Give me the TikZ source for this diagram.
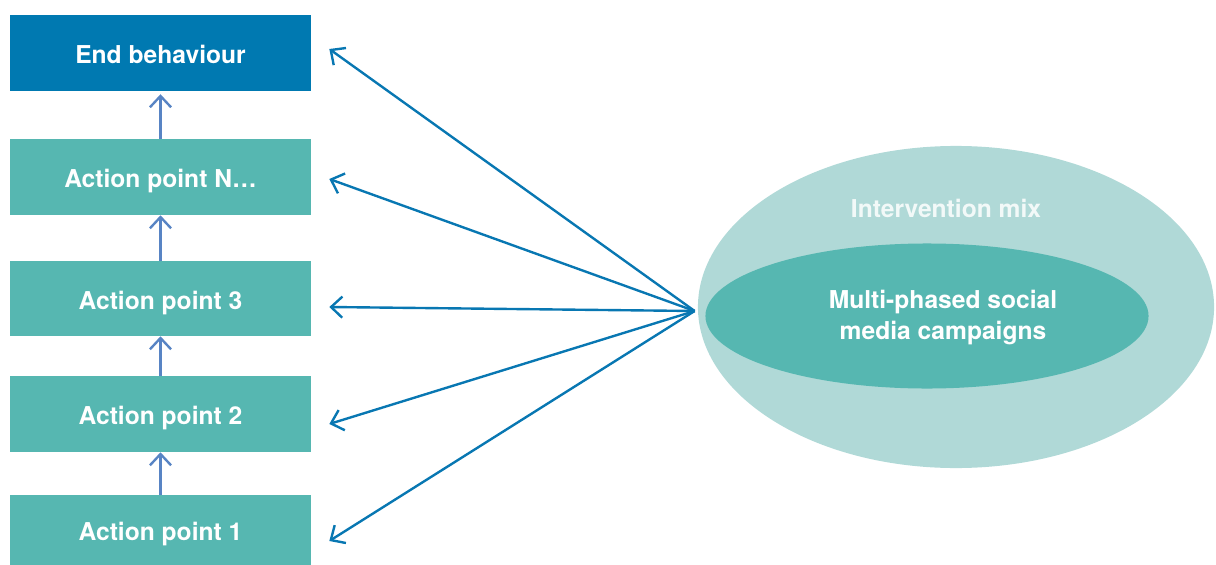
\documentclass[tikz,border=0pt]{standalone}
\usepackage{fontspec}
\setmainfont{TeX Gyre Heros}
\usetikzlibrary{arrows.meta,shapes.geometric}
\definecolor{endblue}{RGB}{0,121,177}
\definecolor{tealbox}{RGB}{86,183,177}
\definecolor{mixteal}{RGB}{176,217,215}
\definecolor{mixblue}{RGB}{8,119,178}
\definecolor{stepblue}{RGB}{88,132,196}
\definecolor{mixtext}{RGB}{242,249,248}
\tikzset{
		% Boxes of the chain: teal action points, blue end behaviour
		action node/.style={rectangle,fill=tealbox,text=white,inner sep=0,
			font=\bfseries\fontsize{17.5}{21}\selectfont,
			text height=15pt,text depth=0pt,
			minimum width=7.525cm,minimum height=1.9cm},
		end node/.style={action node,fill=endblue},
		% Ellipses of the intervention mix
		mix node/.style={ellipse,fill=mixteal,inner sep=0},
		campaign node/.style={ellipse,fill=tealbox,inner sep=0},
		campaign text/.style={text=white,align=center,
			font=\bfseries\fontsize{17.5}{21.5}\selectfont},
		step arrow/.style={draw=stepblue,line width=1.7pt,-{Straight Barb[length=8pt,width=15pt]}},
		mix arrow/.style={draw=mixblue,line width=1.7pt,-{Straight Barb[length=8pt,width=15pt]}}
	}
\begin{document}
\begin{tikzpicture}[x=0.025cm,y=-0.025cm]
		\useasboundingbox (0,0) rectangle (1216,565);
		% action chain
		\node [end node] (endb) at (160.5,53) {End behaviour};
		\node [action node] (apn) at (160.5,177) {Action point N\ldots};
		\node [action node,minimum height=1.875cm] (ap3) at (160.5,298.5) {Action point 3};
		\node [action node] (ap2) at (160.5,414) {Action point 2};
		\node [action node,minimum height=1.75cm] (ap1) at (160.5,530) {Action point 1};
		\draw [step arrow] (ap1.north) -- (ap2.south);
		\draw [step arrow] (ap2.north) -- (ap3.south);
		\draw [step arrow] (ap3.north) -- (apn.south);
		\draw [step arrow,shorten >=2.1pt] (apn.north) -- (endb.south);
		% intervention mix
		\node [mix node,minimum width=12.9cm,minimum height=8.05cm] (mix) at (956,307) {};
		\node [text=mixtext,font=\bfseries\fontsize{17.5}{21}\selectfont] (mixlabel) at (946,208) {Intervention mix};
		\node [campaign node,minimum width=11.075cm,minimum height=3.625cm,
			label={[campaign text,xshift=0.4cm,yshift=-0.04cm]center:{Multi-phased social\\media campaigns}}] (camp) at (927,316) {};
		\coordinate (hub) at ([shift={(-3,4)}]mix.west);
		\foreach \bx/\dy in {endb/-4,apn/2,ap3/8.5,ap2/10,ap1/11}{
			\coordinate (tip \bx) at ([shift={(18,\dy)}]\bx.east);
			\draw [mix arrow] (hub) -- (tip \bx);
		}
	\end{tikzpicture}
\end{document}
